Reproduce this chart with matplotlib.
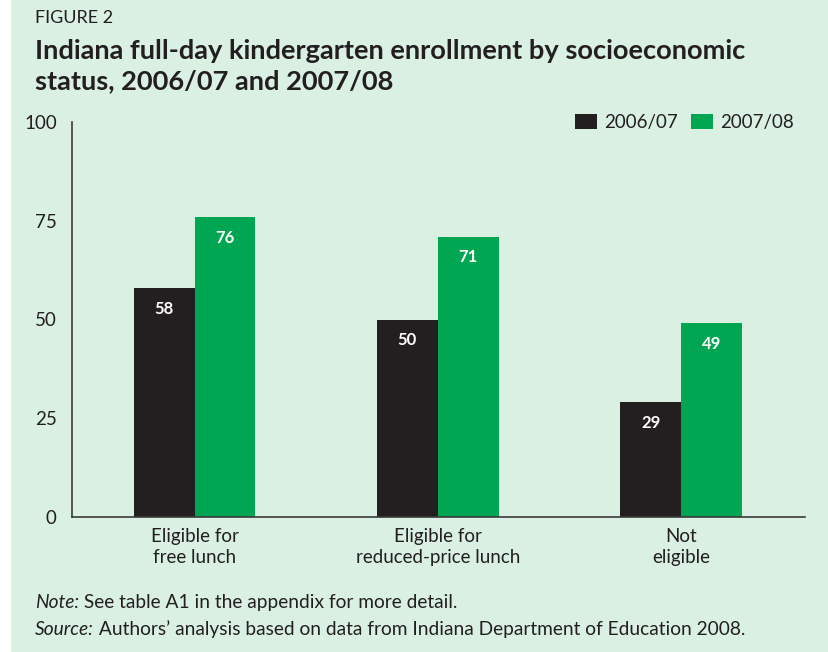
import matplotlib
matplotlib.use("Agg")
import matplotlib.pyplot as plt
import numpy as np

categories = ["Eligible for\nfree lunch", "Eligible for\nreduced-price lunch", "Not\neligible"]
years = ["2006/07", "2007/08"]
values_0607 = [58, 50, 29]
values_0708 = [76, 71, 49]
colors = ["#231f20", "#00a651"]
bg = "#d9f0e3"

plt.rcParams['font.family'] = ['Lato', 'DejaVu Sans']

fig = plt.figure(figsize=(8.29, 6.52), dpi=100)
fig.patch.set_facecolor("white")
# light green panel, white strip on the left
fig.patches.append(plt.Rectangle((11 / 829, 0), 1, 1, transform=fig.transFigure,
                                 facecolor=bg, edgecolor="none", zorder=-1))

ax = fig.add_axes([72 / 829, 1 - 517 / 652, (805 - 72) / 829, (517 - 122) / 652])
ax.set_facecolor("none")

x = np.arange(len(categories))
w = 0.25
b1 = ax.bar(x - w / 2, values_0607, w, color=colors[0], label=years[0])
b2 = ax.bar(x + w / 2, values_0708, w, color=colors[1], label=years[1])

for bars in (b1, b2):
    for r in bars:
        ax.annotate(f"{r.get_height():.0f}", (r.get_x() + r.get_width() / 2, r.get_height()),
                    xytext=(0, -15), textcoords="offset points", ha="center", va="center",
                    color="white", fontsize=12, fontweight="bold")

ax.set_xlim(-0.504, 2.51)
ax.set_ylim(0, 100)
ax.set_yticks([0, 25, 50, 75, 100])
ax.set_xticks(x)
ax.set_xticklabels(categories, fontsize=13.5, color="#231f20", linespacing=1.3)
ax.tick_params(axis="both", length=0, colors="#231f20", labelsize=13.5)
ax.tick_params(axis="y", pad=11)
ax.tick_params(axis="x", pad=8)
for s in ("top", "right"):
    ax.spines[s].set_visible(False)
ax.spines["left"].set_color("#3a3a3a")
ax.spines["bottom"].set_color("#3a3a3a")
ax.spines["left"].set_linewidth(1.2)
ax.spines["bottom"].set_linewidth(1.2)

ax.legend(loc="upper right", bbox_to_anchor=(1.0, 1.05), ncol=2, frameon=False,
          fontsize=13.5, handlelength=1.2, handleheight=0.9, handletextpad=0.35,
          columnspacing=0.7, labelcolor="#231f20", borderaxespad=0.2)

fig.text(35 / 829, 1 - 18 / 652, "FIGURE 2", fontsize=13, color="#231f20", va="center")
fig.text(35 / 829, 1 - 66 / 652,
         "Indiana full-day kindergarten enrollment by socioeconomic\nstatus, 2006/07 and 2007/08",
         fontsize=19.6, fontweight="bold", color="#231f20", va="center", linespacing=1.3)

t1 = fig.text(35 / 829, 1 - 608 / 652, "Note:", fontsize=13.8, style="italic", color="#231f20")
ax.annotate(" See table A1 in the appendix for more detail.", xy=(1, 0), xycoords=t1,
            fontsize=13.8, color="#231f20", va="bottom")
t2 = fig.text(35 / 829, 1 - 635 / 652, "Source:", fontsize=13.8, style="italic", color="#231f20")
ax.annotate(" Authors\u2019 analysis based on data from Indiana Department of Education 2008.",
            xy=(1, 0), xycoords=t2, fontsize=13.8, color="#231f20", va="bottom")

fig.savefig("out.png", dpi=100)
